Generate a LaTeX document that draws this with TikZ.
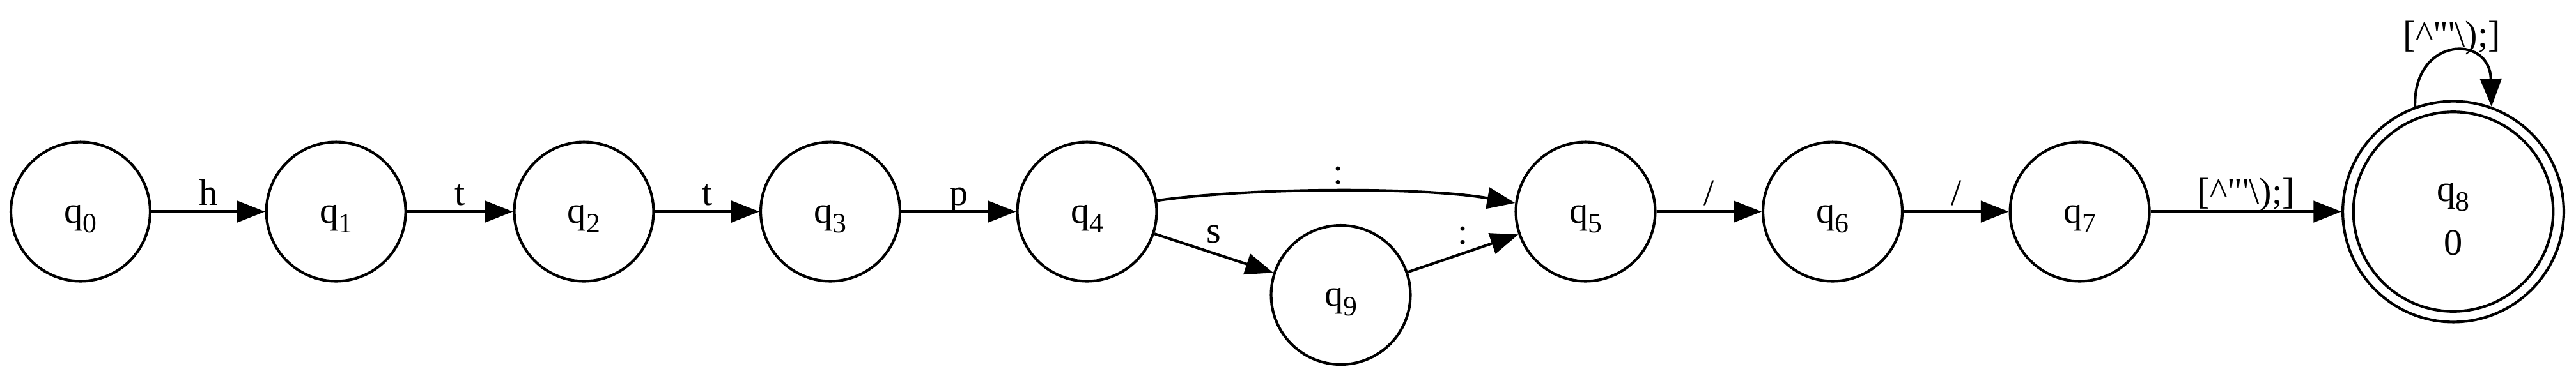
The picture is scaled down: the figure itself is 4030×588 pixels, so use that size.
\documentclass[tikz,border=0pt]{standalone}
\usepackage{fontspec}
\setmainfont{Liberation Serif}[Ligatures=TeXOff]
\usetikzlibrary{arrows.meta}
\newcommand\qsub[2]{#1\raisebox{-3.6pt}{\fontsize{10.5pt}{12pt}\selectfont #2}}
\begin{document}
\begin{tikzpicture}[x=0.24pt,y=-0.24pt,
  font=\fontsize{14pt}{17pt}\selectfont,
  state/.style={circle,draw,line width=1pt,minimum size=52.3pt,inner sep=0pt,text height=12.2pt,text depth=3.6pt},
  edge/.style={line width=1pt,-{Triangle[length=10.5pt,width=8pt]}},
  lab/.style={anchor=base,inner sep=0pt,yshift=#1},
  lab/.default=2.4pt,
  txt/.style={anchor=base,inner sep=0pt}]
\useasboundingbox (0,0) rectangle (4030,588);

\node[state] (q0) at (126,331.5) {\qsub{q}{0}};
\node[state] (q1) at (525.7,331.5) {\qsub{q}{1}};
\node[state] (q2) at (913.5,331.5) {\qsub{q}{2}};
\node[state] (q3) at (1299,331.5) {\qsub{q}{3}};
\node[state] (q4) at (1700.5,331.5) {\qsub{q}{4}};
\node[state] (q9) at (2097.5,462) {\qsub{q}{9}};
\node[state] (q5) at (2480.5,331.5) {\qsub{q}{5}};
\node[state] (q6) at (2867,331.5) {\qsub{q}{6}};
\node[state] (q7) at (3253.6,331.5) {\qsub{q}{7}};
\node[circle,draw,line width=1pt,minimum size=83pt,inner sep=0pt] (q8) at (3838,331.5) {};
\node[circle,draw,line width=1pt,minimum size=75pt,inner sep=0pt] (q8in) at (3838,331.5) {};
\node[txt] (q8name) at (3838,315) {\qsub{q}{8}};
\node[txt] (q8val) at (3838,399) {0};

\draw[edge] (q0) -- node[lab]{h} (q1);
\draw[edge] (q1) -- node[lab]{t} (q2);
\draw[edge] (q2) -- node[lab]{t} (q3);
\draw[edge] (q3) -- node[lab]{p} (q4);
\draw[edge] (q4.9) .. controls (1960,293) and (2230,293) .. node[lab]{:} (q5.173);
\draw[edge] (q4) -- node[lab=3.8pt]{s} (q9);
\draw[edge] (q9) -- node[lab=3.4pt]{:} (q5);
\draw[edge] (q5) -- node[lab]{/} (q6);
\draw[edge] (q6) -- node[lab]{/} (q7);
\draw[edge] (q7) -- node[lab=3pt]{[\textasciicircum"'\textbackslash);]} (q8);
\draw[edge] (q8.110) .. controls (3775,58) and (3895,52) .. node[lab=2.2pt]{[\textasciicircum"'\textbackslash);]} (q8.70);
\end{tikzpicture}
\end{document}
